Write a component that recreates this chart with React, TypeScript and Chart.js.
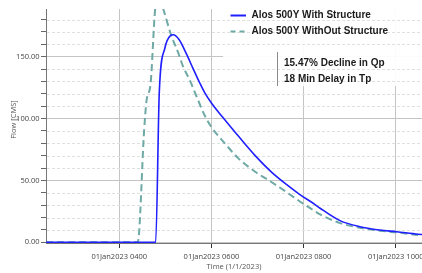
import React, { useEffect, useRef } from 'react';
import { Chart, registerables } from 'chart.js';

Chart.register(...registerables);

// Hours after midnight, 1 Jan 2023
const withTime = [2.41, 4.79, 4.868, 4.99, 5.11, 5.17, 5.3, 5.46, 5.6, 5.75, 5.86, 6.0, 6.15, 6.29, 6.58, 6.95, 7.31, 7.67, 7.92, 8.25, 8.36, 8.79, 9.22, 9.65, 10.02, 10.49, 10.6];
const withFlow = [0, 0, 121, 157, 167, 167.7, 163.7, 152, 140.5, 128.5, 120.5, 112.5, 105.3, 99, 86, 70, 56.5, 45.5, 38.5, 30.5, 27.5, 17.5, 12.6, 9.9, 8.5, 6.5, 6.2];

const withoutTime = [2.41, 4.4, 4.54, 4.59, 4.68, 4.78, 4.855, 4.95, 5.12, 5.28, 5.385, 5.53, 5.675, 5.86, 6.0, 6.29, 6.58, 6.95, 7.31, 7.67, 7.92, 8.25, 8.36, 8.79, 9.22, 9.65, 10.02, 10.49, 10.6];
const withoutFlow = [0, 0, 91, 114, 128.5, 189, 198.4, 189, 168, 153, 142, 131, 118, 102, 93, 80, 68, 57, 48.5, 39.5, 33, 25, 22.5, 15.5, 11.8, 9.4, 8, 5.9, 5.6];

const xTickHours = [4, 6, 8, 10];
const yMajorStep = 50;
const yMinorStep = 10;
const yTickMax = 180;

const seriesLabels = ['Alos 500Y With Structure', 'Alos 500Y WithOut Structure'];
const noteLines = ['15.47% Decline in Qp', '18 Min Delay in Tp'];
const xTitle = 'Time (1/1/2023)';
const yTitle = 'Flow [CMS]';

const BLUE = '#1f1fff';
const TEAL = '#6ea9a5';
const TICK_FONT = { family: '"Open Sans", "Noto Sans", sans-serif', size: 7.5 };

const toPoints = (xs: number[], ys: number[]) => xs.map((x, i) => ({ x, y: ys[i] }));

const overlay = {
  id: 'overlay',
  beforeDatasetsDraw(chart: any) {
    const { ctx, chartArea: a } = chart;
    const y = chart.scales.y;
    ctx.save();
    // legend background box
    ctx.fillStyle = 'rgba(255,255,255,0.92)';
    ctx.fillRect(223, 0, chart.width - 223, 86);
    // minor dashed gridlines
    ctx.strokeStyle = '#e0e0e0';
    ctx.lineWidth = 1;
    ctx.setLineDash([3, 2]);
    for (let v = yMinorStep; v <= yTickMax; v += yMinorStep) {
      if (v % yMajorStep === 0) continue;
      const py = Math.round(y.getPixelForValue(v)) + 0.5;
      ctx.beginPath();
      ctx.moveTo(a.left + 1, py);
      ctx.lineTo(a.right, py);
      ctx.stroke();
    }
    ctx.restore();
  },
  afterDraw(chart: any) {
    const { ctx } = chart;
    ctx.save();
    // legend
    ctx.lineWidth = 2;
    ctx.strokeStyle = BLUE;
    ctx.beginPath();
    ctx.moveTo(230.5, 15.5);
    ctx.lineTo(246, 15.5);
    ctx.stroke();
    ctx.strokeStyle = TEAL;
    ctx.setLineDash([5, 4]);
    ctx.beginPath();
    ctx.moveTo(230.5, 31.5);
    ctx.lineTo(246, 31.5);
    ctx.stroke();
    ctx.setLineDash([]);
    ctx.fillStyle = '#1a1a1a';
    ctx.font = 'bold 10px "Liberation Sans", Arial, sans-serif';
    ctx.textBaseline = 'middle';
    ctx.textAlign = 'left';
    ctx.fillText(seriesLabels[0], 251.5, 15.5);
    ctx.fillText(seriesLabels[1], 251.5, 31);
    // annotation
    ctx.strokeStyle = '#8a8a8a';
    ctx.lineWidth = 1;
    ctx.beginPath();
    ctx.moveTo(277.5, 52);
    ctx.lineTo(277.5, 86);
    ctx.stroke();
    ctx.fillText(noteLines[0], 284, 63);
    ctx.fillText(noteLines[1], 284, 79);
    // y title
    ctx.translate(13.5, 119.5);
    ctx.rotate(-Math.PI / 2);
    ctx.textAlign = 'center';
    ctx.fillStyle = '#555';
    ctx.font = `7.5px ${TICK_FONT.family}`;
    ctx.fillText(yTitle, 0, 0);
    ctx.restore();
  },
};

export default function App() {
  const ref = useRef<HTMLCanvasElement | null>(null);
  useEffect(() => {
    if (!ref.current) return;
    const chart = new Chart(ref.current, {
      type: 'line',
      data: {
        datasets: [
          {
            label: seriesLabels[0],
            data: toPoints(withTime, withFlow),
            borderColor: BLUE,
            borderWidth: 1.6,
            pointRadius: 0,
            cubicInterpolationMode: 'monotone',
            fill: false,
          },
          {
            label: seriesLabels[1],
            data: toPoints(withoutTime, withoutFlow),
            borderColor: TEAL,
            borderWidth: 2,
            borderDash: [7, 4],
            pointRadius: 0,
            cubicInterpolationMode: 'monotone',
            fill: false,
          },
        ],
      },
      options: {
        animation: false,
        responsive: false,
        devicePixelRatio: 1,
        layout: { padding: { top: 9, right: 0, left: 0, bottom: 0 } },
        plugins: { legend: { display: false }, tooltip: { enabled: false } },
        scales: {
          x: {
            type: 'linear',
            min: 2.409,
            max: 10.571,
            afterBuildTicks: (s: any) => {
              s.ticks = xTickHours.map((v) => ({ value: v }));
            },
            afterFit: (s: any) => {
              s.height = 30;
              s.paddingLeft = 0;
              s.paddingRight = 0;
            },
            ticks: {
              autoSkip: false,
              maxRotation: 0,
              padding: 4,
              color: '#444',
              font: TICK_FONT,
              callback: (v: any) => `01Jan2023 ${String(v).padStart(2, '0')}00`,
            },
            grid: { color: '#c4c4c4', lineWidth: 1, tickLength: 5, tickColor: '#333' },
            border: { color: '#777', width: 1 },
            title: {
              display: true,
              text: xTitle,
              color: '#555',
              font: TICK_FONT,
              padding: { top: 0, bottom: 2 },
            },
          },
          y: {
            type: 'linear',
            min: -0.57,
            max: 188.5,
            afterBuildTicks: (s: any) => {
              const t = [];
              for (let v = 0; v <= yTickMax; v += yMinorStep) t.push({ value: v });
              s.ticks = t;
            },
            afterFit: (s: any) => {
              s.width = 46;
              s.paddingTop = 0;
              s.paddingBottom = 0;
            },
            ticks: {
              autoSkip: false,
              padding: 1.5,
              color: '#444',
              font: TICK_FONT,
              callback: (v: any) => (v % yMajorStep === 0 ? Number(v).toFixed(2) : ''),
            },
            grid: {
              color: (c: any) => (c.tick && c.tick.value % yMajorStep === 0 ? '#c4c4c4' : 'rgba(0,0,0,0)'),
              lineWidth: 1,
              tickLength: 5,
              tickColor: '#666',
            },
            border: { color: '#777', width: 1 },
          },
        },
      },
      plugins: [overlay],
    } as any);
    return () => chart.destroy();
  }, []);
  return (
    <div style={{ position: 'absolute', left: 0, top: 0, width: 422, height: 273, background: '#fff' }}>
      <canvas ref={ref} width={422} height={273} />
    </div>
  );
}
